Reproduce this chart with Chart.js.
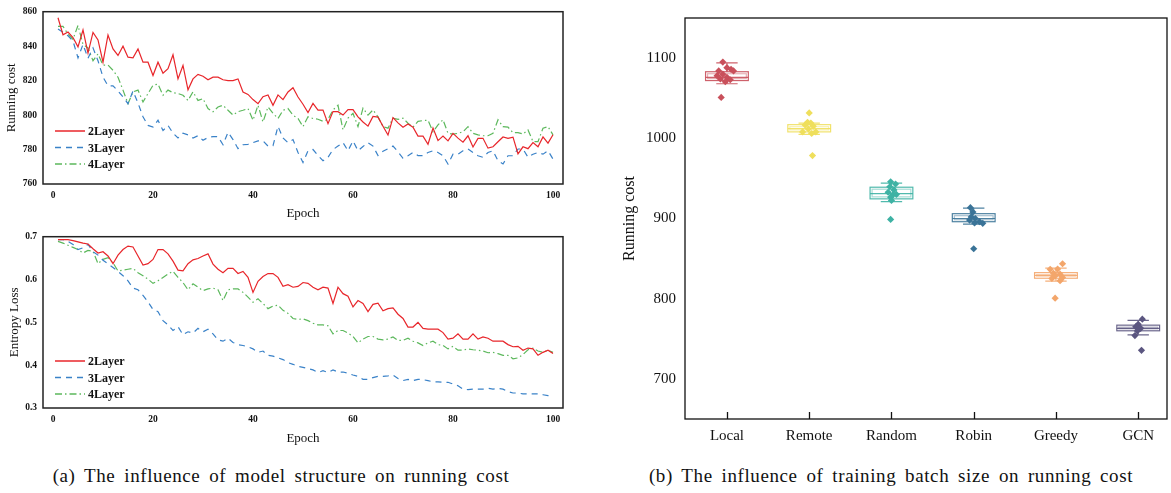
<!DOCTYPE html>
<html lang="en">
<head>
<meta charset="UTF-8">
<title>Running cost</title>
<script src="https://cdn.jsdelivr.net/npm/chart.js"></script>
<style>
  body { margin: 0; background: #fff; width: 1171px; height: 493px; position: relative; overflow: hidden; font-family: "Liberation Serif", serif; }
  canvas { position: absolute; }
  .cap { position: absolute; top: 465px; font-size: 19px; letter-spacing: 0.6px; word-spacing: 3.5px; color: #111; white-space: nowrap; transform: translateX(-50%); }
</style>
</head>
<body>
<canvas id="costChart" width="570" height="225" style="left:0;top:0"></canvas>
<canvas id="lossChart" width="570" height="225" style="left:0;top:225px"></canvas>
<canvas id="boxChart" width="571" height="450" style="left:600px;top:0"></canvas>
<div class="cap" style="left:281px">(a) The influence of model structure on running cost</div>
<div class="cap" style="left:891px">(b) The influence of training batch size on running cost</div>

<script>
// ---- data: (a) running cost / entropy loss per epoch ----
const epochs = Array.from({length: 100}, (_, i) => i + 1);
const epochTicks = [0, 20, 40, 60, 80, 100];
const costTicks = [760, 780, 800, 820, 840, 860];
const lossTicks = [0.3, 0.4, 0.5, 0.6, 0.7];
const seriesNames = ['2Layer', '3Layer', '4Layer'];

const cost2Layer = [
  856.5, 846.6, 848.2, 845, 839.6, 849.4, 836, 848, 843.6, 830.7,
  846.5, 838.4, 834.6, 840, 833.6, 833.2, 838.4, 830.7, 830.7, 823,
  830.7, 824.3, 826.9, 835, 821, 828.8, 814.7, 821, 823.6, 822.5,
  820.5, 822, 822, 820.5, 820, 820, 821, 813.4, 812, 809,
  806.6, 810.7, 811.7, 805.7, 811.7, 809, 813.4, 815.9, 810.5, 806.3,
  801.5, 806.8, 802.9, 802.9, 795, 802, 802, 800, 803.2, 803.2,
  799, 796, 793.6, 799.2, 798.8, 793.5, 788.4, 798.5, 795.5, 792.9,
  794.8, 793, 787.8, 787.8, 783.1, 792.5, 785.2, 787.8, 785, 789.4,
  786.6, 784.3, 788, 781.5, 786.5, 786.5, 780.8, 781.6, 784.5, 787.3,
  786.5, 787.2, 777.5, 781.6, 780.5, 784, 781.6, 787.3, 783.7, 788.6
];
const cost3Layer = [
  850, 848, 846, 843, 833.2, 841, 833, 839, 831.5, 822,
  817, 817, 814, 810.5, 806.6, 814, 807, 799, 794, 793,
  797, 791, 794, 789.5, 786.7, 789.5, 788.5, 786.7, 788, 785.4,
  787, 787.5, 787.5, 782.8, 790, 785.8, 780.5, 782.8, 783, 784,
  785, 785, 782, 782.2, 793.5, 786.7, 784, 785.8, 778.3, 772.5,
  779.3, 780, 776.5, 773.5, 775.5, 780, 782, 784, 779.3, 785,
  779.3, 781.8, 784, 782, 776.5, 779, 780.5, 782, 778.7, 774.9,
  776.4, 778.3, 776.5, 776.5, 778.3, 779.3, 778.3, 776.4, 771.6, 777.3,
  777.3, 779.3, 780.3, 778.3, 776.4, 775.5, 778.3, 779.3, 773.5, 771.6,
  776.4, 776.4, 780.3, 780.3, 775.5, 777.3, 778.3, 777.3, 779.3, 774.5
];
const cost4Layer = [
  851.5, 851.5, 847, 844, 852, 841, 839, 831.5, 835.5, 829,
  829, 826, 822, 814.5, 806.6, 813.5, 814.5, 807.6, 812.5, 817.3,
  818, 811.5, 814.5, 813, 812.5, 811.5, 808.5, 813.5, 808.5, 809.5,
  803.8, 801.9, 804.7, 805.7, 802.8, 800, 802, 802.8, 803.8, 797,
  805.7, 796, 804.7, 801, 798, 802.8, 803.8, 800, 798, 793.3,
  799, 798, 797.6, 796.4, 797.5, 803, 805.7, 791.4, 798.2, 801,
  793.3, 804, 800, 803, 799, 793.3, 792.4, 798.2, 797.5, 798.2,
  795.3, 793, 796.4, 796.8, 797, 790.3, 794.3, 797.3, 789.4, 789,
  789.4, 790.3, 793.3, 789.4, 788.5, 788, 788, 789.4, 797.3, 793.3,
  793, 789.8, 789.8, 789, 791.4, 784.6, 784.6, 792.4, 793.3, 788.5
];

const loss2Layer = [
  0.693, 0.693, 0.693, 0.691, 0.688, 0.685, 0.683, 0.672, 0.662, 0.665,
  0.655, 0.637, 0.657, 0.670, 0.678, 0.676, 0.655, 0.634, 0.637, 0.647,
  0.670, 0.670, 0.660, 0.643, 0.622, 0.620, 0.637, 0.646, 0.649, 0.655,
  0.660, 0.636, 0.624, 0.616, 0.626, 0.626, 0.614, 0.619, 0.605, 0.570,
  0.596, 0.607, 0.614, 0.614, 0.605, 0.584, 0.588, 0.582, 0.584, 0.593,
  0.591, 0.582, 0.576, 0.582, 0.580, 0.544, 0.582, 0.567, 0.561, 0.536,
  0.551, 0.544, 0.525, 0.542, 0.545, 0.527, 0.532, 0.534, 0.519, 0.509,
  0.489, 0.489, 0.500, 0.486, 0.484, 0.484, 0.484, 0.476, 0.461, 0.463,
  0.473, 0.461, 0.461, 0.473, 0.461, 0.466, 0.463, 0.456, 0.456, 0.456,
  0.448, 0.443, 0.444, 0.435, 0.440, 0.438, 0.423, 0.430, 0.435, 0.427
];
const loss3Layer = [
  0.693, 0.693, 0.689, 0.682, 0.670, 0.674, 0.682, 0.665, 0.657, 0.645,
  0.637, 0.628, 0.619, 0.609, 0.597, 0.580, 0.576, 0.563, 0.548, 0.530,
  0.525, 0.504, 0.494, 0.481, 0.490, 0.471, 0.478, 0.475, 0.486, 0.478,
  0.484, 0.473, 0.459, 0.456, 0.463, 0.453, 0.448, 0.446, 0.443, 0.438,
  0.430, 0.433, 0.423, 0.421, 0.417, 0.413, 0.406, 0.402, 0.397, 0.395,
  0.392, 0.389, 0.383, 0.387, 0.383, 0.389, 0.384, 0.384, 0.381, 0.377,
  0.374, 0.367, 0.367, 0.371, 0.374, 0.374, 0.375, 0.377, 0.369, 0.364,
  0.367, 0.364, 0.367, 0.366, 0.364, 0.361, 0.361, 0.360, 0.360, 0.356,
  0.352, 0.344, 0.343, 0.344, 0.344, 0.344, 0.346, 0.344, 0.346, 0.344,
  0.338, 0.335, 0.335, 0.333, 0.333, 0.333, 0.333, 0.331, 0.329, 0.329
];
const loss4Layer = [
  0.689, 0.685, 0.680, 0.675, 0.670, 0.662, 0.668, 0.666, 0.637, 0.647,
  0.651, 0.639, 0.620, 0.622, 0.624, 0.626, 0.616, 0.609, 0.601, 0.591,
  0.597, 0.605, 0.613, 0.619, 0.605, 0.593, 0.576, 0.590, 0.582, 0.574,
  0.578, 0.580, 0.576, 0.551, 0.576, 0.578, 0.578, 0.570, 0.559, 0.547,
  0.555, 0.544, 0.532, 0.538, 0.540, 0.528, 0.521, 0.509, 0.507, 0.508,
  0.504, 0.498, 0.494, 0.494, 0.492, 0.473, 0.481, 0.481, 0.475, 0.467,
  0.452, 0.461, 0.467, 0.467, 0.461, 0.459, 0.461, 0.466, 0.458, 0.458,
  0.463, 0.456, 0.452, 0.446, 0.452, 0.456, 0.448, 0.446, 0.438, 0.444,
  0.435, 0.435, 0.438, 0.436, 0.435, 0.433, 0.429, 0.430, 0.427, 0.423,
  0.423, 0.415, 0.417, 0.425, 0.436, 0.440, 0.433, 0.430, 0.435, 0.430
];

// ---- data: (b) running cost per scheme ----
const schemes = ['Local', 'Remote', 'Random', 'Robin', 'Greedy', 'GCN'];
const boxTicks = [700, 800, 900, 1000, 1100];
const boxQ1 = [1072, 1008, 924.5, 896, 825.5, 760];
const boxMedian = [1076, 1012, 931, 900, 829, 763];
const boxQ3 = [1083, 1017, 939, 906, 832.5, 767];
const whiskerLow = [1068, 1005, 921, 893, 822, 755];
const whiskerHigh = [1094, 1019, 944, 913, 838, 773];

const pointsLocal = [1095, 1088, 1086, 1084, 1084, 1080, 1078, 1076, 1074, 1073, 1070.5, 1051];
const pointsRemote = [1031.7, 1020, 1019, 1016.6, 1015, 1011.7, 1008, 1008, 1006, 978.5];
const pointsRandom = [945.8, 943, 939.6, 935.6, 932.7, 929.8, 926.6, 922.5, 930, 898.8];
const pointsRobin = [913.5, 908, 902, 900, 898, 896, 894, 894.5, 862.3];
const pointsGreedy = [843.6, 836.6, 837, 831.7, 830.6, 828.5, 826.4, 825.2, 822.4, 800.6];
const pointsGCN = [774.5, 768, 765, 763, 759.8, 754, 735.6];
// horizontal jitter of the strip points, in category units
const jitterLocal = [-0.05, 0.0, 0.05, -0.1, 0.08, -0.05, -0.12, 0.0, -0.08, 0.04, -0.02, -0.07];
const jitterRemote = [0.0, -0.02, 0.02, -0.05, 0.05, -0.01, -0.08, 0.08, 0.03, 0.04];
const jitterRandom = [-0.01, 0.05, -0.02, 0.03, -0.04, 0.02, -0.01, 0.0, 0.06, -0.01];
const jitterRobin = [-0.04, -0.01, -0.03, 0.02, -0.05, 0.07, 0.11, 0.01, 0.0];
const jitterGreedy = [0.08, -0.07, 0.02, -0.03, 0.05, -0.01, 0.08, -0.05, 0.05, -0.01];
const jitterGCN = [0.05, 0.0, -0.03, 0.03, -0.01, -0.04, 0.04];

const schemePoints = [pointsLocal, pointsRemote, pointsRandom, pointsRobin, pointsGreedy, pointsGCN];
const schemeJitter = [jitterLocal, jitterRemote, jitterRandom, jitterRobin, jitterGreedy, jitterGCN];
const schemeColors = ['#c9505b', '#efdf5c', '#3eb2a4', '#3a7397', '#f3a66b', '#5b5680'];

const serif = '"Liberation Serif", "Times New Roman", serif';

// box border drawn around the plot area
const frame = {
  id: 'frame',
  afterDatasetsDraw(chart) {
    const {ctx, chartArea: a} = chart;
    ctx.save();
    ctx.strokeStyle = '#222';
    ctx.lineWidth = 1.5;
    ctx.strokeRect(a.left, a.top, a.right - a.left, a.bottom - a.top);
    ctx.restore();
  }
};

// legend drawn inside the plot, bottom-left
const inlineLegend = {
  id: 'inlineLegend',
  afterDraw(chart, args, opts) {
    const ctx = chart.ctx;
    chart.data.datasets.forEach((ds, i) => {
      const y = opts.y + i * opts.gap;
      ctx.save();
      ctx.strokeStyle = ds.borderColor;
      ctx.lineWidth = 1.5;
      ctx.setLineDash(ds.borderDash || []);
      ctx.beginPath();
      ctx.moveTo(opts.x, y);
      ctx.lineTo(opts.x + 30, y);
      ctx.stroke();
      ctx.setLineDash([]);
      ctx.fillStyle = '#111';
      ctx.font = 'bold 12px ' + serif;
      ctx.textBaseline = 'middle';
      ctx.fillText(ds.label, opts.x + 33, y + 1);
      ctx.restore();
    });
  }
};

function makeLineChart(id, s2, s3, s4, yMin, yMax, yTicks, yTitle, titlePad, padTop, xHeight, legendY, fmt) {
  const lines = [
    {data: s2, color: '#e8262b', dash: []},
    {data: s3, color: '#3a82c8', dash: [6, 5]},
    {data: s4, color: '#5cb85c', dash: [7, 3, 1.5, 3]}
  ];
  return new Chart(document.getElementById(id), {
    type: 'line',
    data: {
      datasets: lines.map((l, i) => ({
        label: seriesNames[i],
        data: epochs.map((e, j) => ({x: e, y: l.data[j]})),
        borderColor: l.color,
        borderDash: l.dash,
        borderWidth: 1.2,
        pointRadius: 0,
        tension: 0,
        fill: false
      }))
    },
    options: {
      responsive: false,
      animation: false,
      layout: {padding: {top: padTop, right: 7, left: 0, bottom: 0}},
      plugins: {
        legend: {display: false},
        tooltip: {enabled: false},
        inlineLegend: {x: 55, y: legendY, gap: 16.5}
      },
      scales: {
        x: {
          type: 'linear', min: -2, max: 102,
          afterBuildTicks: s => { s.ticks = epochTicks.map(v => ({value: v})); },
          afterFit: s => { s.height = xHeight; },
          grid: {display: false, drawTicks: false},
          border: {display: false},
          ticks: {padding: 6, color: '#111', font: {family: serif, size: 9.5, weight: 'bold'}, maxRotation: 0},
          title: {display: true, text: 'Epoch', color: '#111', font: {family: serif, size: 13}, padding: {top: 0, bottom: 4}}
        },
        y: {
          min: yMin, max: yMax,
          afterBuildTicks: s => { s.ticks = yTicks.map(v => ({value: v})); },
          afterFit: s => { s.width = 43; },
          grid: {display: false, drawTicks: false},
          border: {display: false},
          ticks: {padding: 6, color: '#111', font: {family: serif, size: 9.5, weight: 'bold'}, callback: fmt},
          title: {display: true, text: yTitle, color: '#111', font: {family: serif, size: 13}, padding: {top: titlePad, bottom: 0}}
        }
      }
    },
    plugins: [frame, inlineLegend]
  });
}

makeLineChart('costChart', cost2Layer, cost3Layer, cost4Layer, 760, 860, costTicks,
  'Running cost', 4, 11, 41, 131, v => String(v));
makeLineChart('lossChart', loss2Layer, loss3Layer, loss4Layer, 0.3, 0.7, lossTicks,
  'Entropy Loss', 7, 9, 42, 136, v => v.toFixed(1));

// boxes, whiskers and medians under the strip points
const boxes = {
  id: 'boxes',
  beforeDatasetsDraw(chart) {
    const {ctx, scales: {x, y}} = chart;
    schemes.forEach((name, i) => {
      const xc = x.getPixelForValue(i);
      const half = x.getPixelForValue(i + 0.26) - xc;
      const cap = half * 0.5;
      const q1 = y.getPixelForValue(boxQ1[i]);
      const q3 = y.getPixelForValue(boxQ3[i]);
      const md = y.getPixelForValue(boxMedian[i]);
      const lo = y.getPixelForValue(whiskerLow[i]);
      const hi = y.getPixelForValue(whiskerHigh[i]);
      ctx.save();
      ctx.strokeStyle = schemeColors[i];
      ctx.lineWidth = 1.2;
      ctx.globalAlpha = 0.9;
      ctx.beginPath();
      ctx.moveTo(xc, q3); ctx.lineTo(xc, hi);
      ctx.moveTo(xc - cap, hi); ctx.lineTo(xc + cap, hi);
      ctx.moveTo(xc, q1); ctx.lineTo(xc, lo);
      ctx.moveTo(xc - cap, lo); ctx.lineTo(xc + cap, lo);
      ctx.moveTo(xc - half, md); ctx.lineTo(xc + half, md);
      ctx.stroke();
      ctx.strokeRect(xc - half, q3, half * 2, q1 - q3);
      ctx.globalAlpha = 0.45;
      ctx.strokeRect(xc - half + 2, q3 + 2, half * 2 - 4, q1 - q3 - 4);
      ctx.restore();
    });
  },
  afterDraw(chart) {
    const {ctx, chartArea: a, scales: {x}} = chart;
    ctx.save();
    ctx.strokeStyle = '#111';
    ctx.lineWidth = 1.3;
    ctx.strokeRect(a.left, a.top, a.right - a.left, a.bottom - a.top);
    ctx.beginPath();
    schemes.forEach((name, i) => {
      const px = Math.round(x.getPixelForValue(i)) + 0.5;
      ctx.moveTo(px, a.bottom);
      ctx.lineTo(px, a.bottom - 7);
    });
    ctx.stroke();
    ctx.restore();
  }
};

new Chart(document.getElementById('boxChart'), {
  type: 'scatter',
  data: {
    datasets: schemes.map((name, i) => ({
      label: name,
      data: schemePoints[i].map((v, j) => ({x: i + schemeJitter[i][j], y: v})),
      backgroundColor: schemeColors[i],
      borderColor: schemeColors[i],
      borderWidth: 0,
      pointStyle: 'rectRot',
      pointRadius: 3.6
    }))
  },
  options: {
    responsive: false,
    animation: false,
    layout: {padding: {top: 11, right: 4, left: 0, bottom: 0}},
    plugins: {legend: {display: false}, tooltip: {enabled: false}},
    scales: {
      x: {
        type: 'linear', min: -0.51, max: 5.35,
        afterBuildTicks: s => { s.ticks = schemes.map((n, i) => ({value: i})); },
        afterFit: s => { s.height = 31; },
        grid: {display: false, drawTicks: false},
        border: {display: false},
        ticks: {padding: 8, color: '#111', font: {family: serif, size: 15}, maxRotation: 0,
                callback: v => schemes[v]}
      },
      y: {
        min: 650, max: 1150,
        afterBuildTicks: s => { s.ticks = boxTicks.map(v => ({value: v})); },
        afterFit: s => { s.width = 85; },
        grid: {display: false, drawTicks: false},
        border: {display: false},
        ticks: {padding: 9, color: '#111', font: {family: serif, size: 15}, callback: v => String(v)},
        title: {display: true, text: 'Running cost', color: '#111', font: {family: serif, size: 16}, padding: {top: 20, bottom: 0}}
      }
    }
  },
  plugins: [boxes]
});
</script>
</body>
</html>
